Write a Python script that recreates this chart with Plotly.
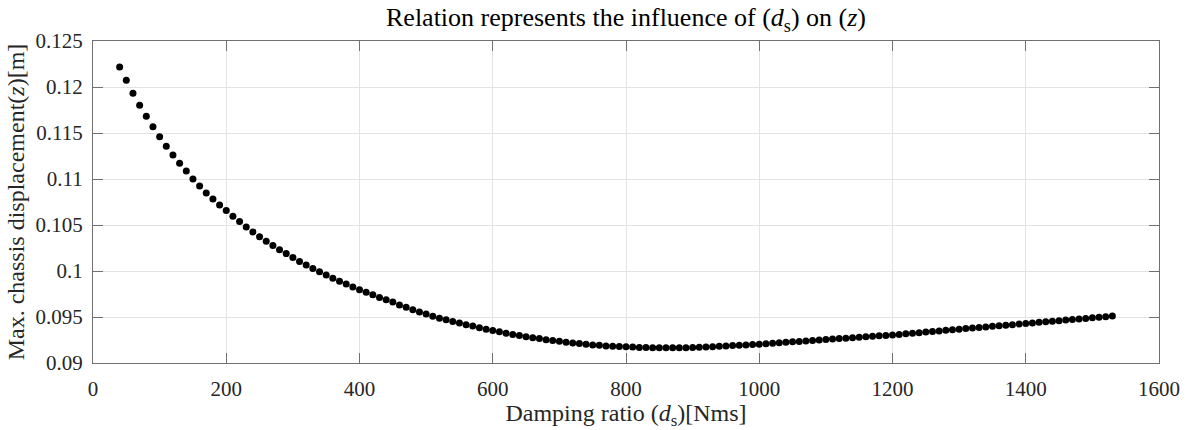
import plotly.graph_objects as go

# Damping ratio d_s [Nms]
damping = [
    40, 50, 60, 70, 80, 90, 100, 110, 120, 130,
    140, 150, 160, 170, 180, 190, 200, 210, 220, 230,
    240, 250, 260, 270, 280, 290, 300, 310, 320, 330,
    340, 350, 360, 370, 380, 390, 400, 410, 420, 430,
    440, 450, 460, 470, 480, 490, 500, 510, 520, 530,
    540, 550, 560, 570, 580, 590, 600, 610, 620, 630,
    640, 650, 660, 670, 680, 690, 700, 710, 720, 730,
    740, 750, 760, 770, 780, 790, 800, 810, 820, 830,
    840, 850, 860, 870, 880, 890, 900, 910, 920, 930,
    940, 950, 960, 970, 980, 990, 1000, 1010, 1020, 1030,
    1040, 1050, 1060, 1070, 1080, 1090, 1100, 1110, 1120, 1130,
    1140, 1150, 1160, 1170, 1180, 1190, 1200, 1210, 1220, 1230,
    1240, 1250, 1260, 1270, 1280, 1290, 1300, 1310, 1320, 1330,
    1340, 1350, 1360, 1370, 1380, 1390, 1400, 1410, 1420, 1430,
    1440, 1450, 1460, 1470, 1480, 1490, 1500, 1510, 1520, 1530,
]

# Maximum chassis displacement z [m]
max_disp = [
    0.12218, 0.12073, 0.11932, 0.11801, 0.11682, 0.11568, 0.11459, 0.11357, 0.11261, 0.11170,
    0.11086, 0.11001, 0.10923, 0.10848, 0.10782, 0.10718, 0.10658, 0.10594, 0.10538, 0.10478,
    0.10425, 0.10372, 0.10323, 0.10277, 0.10231, 0.10189, 0.10147, 0.10104, 0.10065, 0.10027,
    0.09991, 0.09956, 0.09921, 0.09889, 0.09858, 0.09826, 0.09797, 0.09769, 0.09741, 0.09713,
    0.09688, 0.09663, 0.09630, 0.09605, 0.09580, 0.09555, 0.09532, 0.09508, 0.09487, 0.09469,
    0.09451, 0.09434, 0.09416, 0.09402, 0.09384, 0.09366, 0.09353, 0.09339, 0.09324, 0.09310,
    0.09300, 0.09286, 0.09275, 0.09265, 0.09254, 0.09244, 0.09236, 0.09225, 0.09218, 0.09212,
    0.09204, 0.09197, 0.09194, 0.09186, 0.09183, 0.09180, 0.09176, 0.09173, 0.09169, 0.09169,
    0.09166, 0.09166, 0.09166, 0.09165, 0.09165, 0.09166, 0.09168, 0.09170, 0.09173, 0.09177,
    0.09181, 0.09185, 0.09189, 0.09193, 0.09197, 0.09201, 0.09205, 0.09210, 0.09215, 0.09220,
    0.09225, 0.09230, 0.09235, 0.09240, 0.09245, 0.09250, 0.09255, 0.09260, 0.09265, 0.09270,
    0.09275, 0.09280, 0.09285, 0.09290, 0.09295, 0.09300, 0.09305, 0.09311, 0.09318, 0.09324,
    0.09330, 0.09336, 0.09343, 0.09349, 0.09355, 0.09361, 0.09367, 0.09374, 0.09380, 0.09386,
    0.09392, 0.09399, 0.09405, 0.09411, 0.09417, 0.09423, 0.09430, 0.09436, 0.09442, 0.09448,
    0.09454, 0.09460, 0.09467, 0.09473, 0.09479, 0.09485, 0.09491, 0.09497, 0.09504, 0.09510,
]

x_ticks = [0, 200, 400, 600, 800, 1000, 1200, 1400, 1600]
y_ticks = [0.09, 0.095, 0.1, 0.105, 0.11, 0.115, 0.12, 0.125]
y_tick_text = ["0.09", "0.095", "0.1", "0.105", "0.11", "0.115", "0.12", "0.125"]

SERIF = "Liberation Serif, Times New Roman, serif"
TEXT = "#262626"
AXIS = "#707070"
GRID = "#e3e3e3"

fig = go.Figure()
fig.add_trace(go.Scatter(
    x=damping, y=max_disp, mode="markers",
    marker=dict(color="black", size=7, line=dict(width=0)),
    showlegend=False,
))

axis_common = dict(
    showline=True, linecolor=AXIS, linewidth=1, mirror="ticks",
    ticks="inside", ticklen=10, tickwidth=1, tickcolor=AXIS,
    showgrid=True, gridcolor=GRID, gridwidth=1, zeroline=False,
    tickfont=dict(family=SERIF, size=21, color=TEXT),
)

fig.update_xaxes(
    range=[0, 1600], tickvals=x_ticks, ticktext=[str(v) for v in x_ticks],
    title=dict(text="Damping ratio (<i>d</i><sub>s</sub>)[Nms]",
               font=dict(family=SERIF, size=24, color=TEXT), standoff=0),
    ticklabelstandoff=7,
    **axis_common,
)
fig.update_yaxes(
    range=[0.09, 0.125], tickvals=y_ticks, ticktext=y_tick_text,
    title=dict(text="Max. chassis displacement(<i>z</i>)[m]",
               font=dict(family=SERIF, size=24, color=TEXT), standoff=4),
    ticklabelstandoff=5,
    **axis_common,
)

fig.update_layout(
    width=1192, height=430,
    margin=dict(l=93, r=29, t=41, b=59),
    paper_bgcolor="white", plot_bgcolor="white",
    title=dict(
        text="Relation represents the influence of (<i>d</i><sub>s</sub>) on (<i>z</i>)",
        x=0.5, xref="paper", xanchor="center",
        y=0.96, yref="container", yanchor="middle",
        font=dict(family=SERIF, size=26, color="black"),
    ),
)

fig.write_html("out.html")
